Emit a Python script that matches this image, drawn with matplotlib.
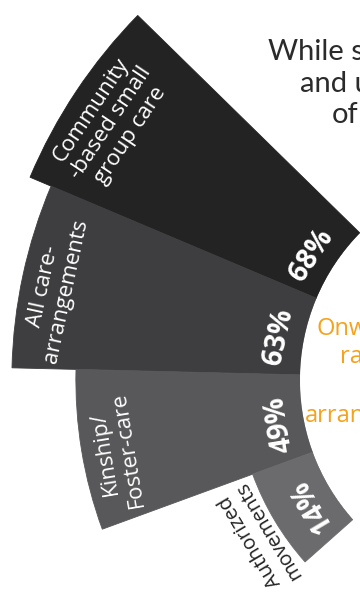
import numpy as np
import matplotlib
matplotlib.use("Agg")
import matplotlib.pyplot as plt

plt.rcParams['font.family'] = ['Open Sans', 'DejaVu Sans']

# data
categories = ["Community\n-based small\ngroup care", "All care-\narrangements",
              "Kinship/\nFoster-care", "Authorized\nmovements"]
values = [68, 63, 49, 14]
colors = ["#232323", "#3e3e40", "#58585a", "#6b6b6d"]

# cropped side text (only what is visible in the image)
side_lines = ["While s", "and u", "of"]
orange_lines = ["Onw", "ra", "arran"]

W, H = 360, 597
fig = plt.figure(figsize=(W / 100, H / 100), dpi=100)

# fan centre sits outside the figure, to the right
cx, cy = 510, 217      # pixels from bottom-left
R = 530                # polar axes radius in px
inner = 210            # px where 0% starts
k = 4.574              # px per percent

ax = fig.add_axes([(cx - R) / W, (cy - R) / H, 2 * R / W, 2 * R / H],
                  projection='polar')
ax.set_ylim(0, (R - inner) / k)
ax.set_rorigin(-inner / k)
ax.set_axis_off()

step = np.deg2rad(21.5)
start = np.deg2rad(135.6)
theta = start + step * (np.arange(len(values)) + 0.5)

ax.bar(theta, values, width=step, bottom=0, color=colors,
       edgecolor=colors, linewidth=0.6)

for i, (cat, v) in enumerate(zip(categories, values)):
    rot = np.rad2deg(theta[i]) - 90
    # percentage at inner end
    ax.text(theta[i] + np.deg2rad(1.5), 25 / k, f"{v}%", rotation=rot,
            rotation_mode='anchor', ha='center', va='center',
            fontsize=20, fontweight='bold', color='white')
    if i < 3:
        ax.text(theta[i] + np.deg2rad(0.8), v - 12 / k, cat, rotation=rot,
                rotation_mode='anchor', ha='center', va='top',
                fontsize=16, color='white', linespacing=1.15)
    else:
        ax.text(theta[i] + np.deg2rad(1.0), v + 0.5 / k, cat, rotation=rot,
                rotation_mode='anchor', ha='center', va='bottom',
                fontsize=14.5, color='#222222', linespacing=1.1)

# right hand paragraph (cut off by the image edge)
for txt, x, y in zip(side_lines, [268, 300, 332], [60, 92, 123]):
    fig.text(x / W, 1 - y / H, txt, fontsize=21, color='#2b2b2b',
             family=['Lato', 'DejaVu Sans'], va='baseline', ha='left')
for txt, x, y in zip(orange_lines, [317, 340, 305], [335, 363, 422]):
    fig.text(x / W, 1 - y / H, txt, fontsize=17, color='#f5a21c',
             family=['Open Sans', 'DejaVu Sans'], va='baseline', ha='left')

fig.savefig('out.png', dpi=100)
